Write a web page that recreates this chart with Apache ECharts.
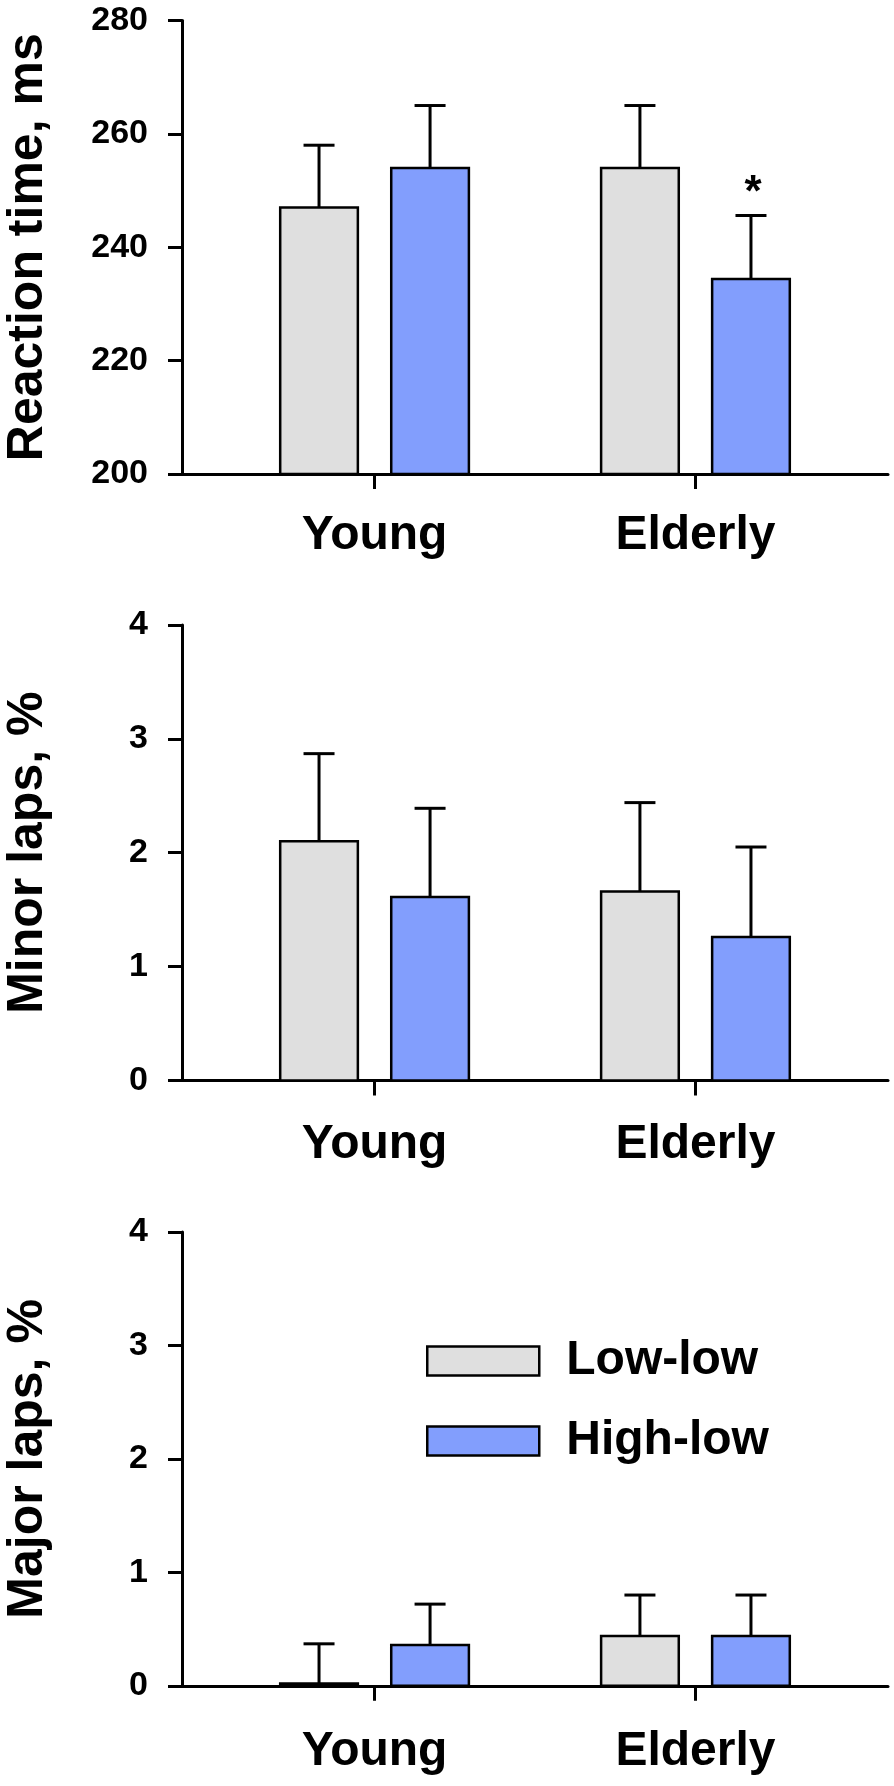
<!DOCTYPE html>
<html>
<head>
<meta charset="utf-8">
<title>Reaction time and lapses</title>
<script src="https://cdn.jsdelivr.net/npm/echarts@6/dist/echarts.min.js"></script>
<style>
  html, body { margin: 0; padding: 0; background: #fff; }
  #main { width: 894px; height: 1786px; }
</style>
</head>
<body>
<div id="main"></div>
<script>
// groups on the x axis (1 = Young, 2 = Elderly)
var groups = ['Young', 'Elderly'];
var groupPos = [1, 2];
var conditions = ['Low-low', 'High-low'];

// reaction time, ms (mean, SD)
var rtLowMean = [247, 254];
var rtLowSd = [11, 11];
var rtHighMean = [254, 234.4];
var rtHighSd = [11, 11.2];
var rtHighSig = [false, true];

// minor lapses, %
var minorLowMean = [2.1, 1.66];
var minorLowSd = [0.77, 0.78];
var minorHighMean = [1.61, 1.26];
var minorHighSd = [0.78, 0.79];

// major lapses, %
var majorLowMean = [0.02, 0.44];
var majorLowSd = [0.35, 0.36];
var majorHighMean = [0.36, 0.44];
var majorHighSd = [0.36, 0.36];

var FONT = '"Liberation Sans", Arial, sans-serif';
var LOW_COLOR = '#DFDFDF';
var HIGH_COLOR = '#829EFD';
var BAR_OFFSET = 0.173;   // bar centre offset from group tick, axis units
var BAR_HALF = 0.121;     // half bar width, axis units
var CAP_HALF = 15.5;      // half error cap width, px

function rows(means, sds, sig) {
  return groupPos.map(function (g, i) {
    return [g, means[i], sds[i], sig && sig[i] ? 1 : 0];
  });
}

function barRenderer(offset, fill, yMin) {
  return function (params, api) {
    var x = api.value(0) + offset;
    var mean = api.value(1);
    var sd = api.value(2);
    var tl = api.coord([x - BAR_HALF, mean]);
    var br = api.coord([x + BAR_HALF, yMin]);
    var mid = api.coord([x, mean]);
    var cap = api.coord([x, mean + sd]);
    var children = [
      { type: 'line', shape: { x1: mid[0], y1: mid[1], x2: cap[0], y2: cap[1] },
        style: { stroke: '#000', lineWidth: 3 } },
      { type: 'line', shape: { x1: cap[0] - CAP_HALF, y1: cap[1], x2: cap[0] + CAP_HALF, y2: cap[1] },
        style: { stroke: '#000', lineWidth: 3 } },
      { type: 'rect', shape: { x: tl[0], y: tl[1], width: br[0] - tl[0], height: br[1] - tl[1] },
        style: { fill: fill, stroke: '#000', lineWidth: 2.5 } }
    ];
    if (api.value(3)) {
      children.push({ type: 'text', x: cap[0] + 2, y: cap[1] - 22,
        style: { text: '*', font: 'bold 44px ' + FONT, fill: '#000', align: 'center', verticalAlign: 'middle' } });
    }
    return { type: 'group', children: children };
  };
}

var grids = [
  { left: 182, width: 706, top: 20.5, height: 453.5 },
  { left: 182, width: 706, top: 625, height: 455.4 },
  { left: 182, width: 706, top: 1232, height: 453.8 }
];
var yNames = ['Reaction time, ms', 'Minor laps, %', 'Major laps, %'];
var yMins = [200, 0, 0];
var yMaxs = [280, 4, 4];
var yIntervals = [20, 1, 1];
var xLabelMargins = [38, 40, 42];

var xAxes = grids.map(function (g, i) {
  return {
    gridIndex: i, type: 'value', min: 0.4, max: 2.6,
    splitLine: { show: false },
    axisLine: { onZero: false, lineStyle: { color: '#000', width: 3 } },
    axisTick: { customValues: groupPos, length: 15, lineStyle: { color: '#000', width: 3 } },
    axisLabel: {
      customValues: groupPos, margin: xLabelMargins[i],
      formatter: function (v) { return groups[groupPos.indexOf(v)]; },
      fontFamily: FONT, fontWeight: 'bold', fontSize: 48, color: '#000'
    }
  };
});

var yAxes = grids.map(function (g, i) {
  return {
    gridIndex: i, type: 'value', min: yMins[i], max: yMaxs[i], interval: yIntervals[i],
    name: yNames[i], nameLocation: 'middle', nameGap: 129,
    nameTextStyle: { fontFamily: FONT, fontWeight: 'bold', fontSize: 50, color: '#000' },
    splitLine: { show: false },
    axisLine: { show: true, onZero: false, lineStyle: { color: '#000', width: 3 } },
    axisTick: { show: true, length: 14, lineStyle: { color: '#000', width: 3 } },
    axisLabel: { margin: 34, fontFamily: FONT, fontWeight: 'bold', fontSize: 34, color: '#000' }
  };
});

var panels = [
  [rows(rtLowMean, rtLowSd), rows(rtHighMean, rtHighSd, rtHighSig)],
  [rows(minorLowMean, minorLowSd), rows(minorHighMean, minorHighSd)],
  [rows(majorLowMean, majorLowSd), rows(majorHighMean, majorHighSd)]
];

var series = [];
panels.forEach(function (p, i) {
  series.push({
    name: conditions[0], type: 'custom', xAxisIndex: i, yAxisIndex: i,
    renderItem: barRenderer(-BAR_OFFSET, LOW_COLOR, yMins[i]), data: p[0],
    itemStyle: { color: LOW_COLOR }, silent: true
  });
  series.push({
    name: conditions[1], type: 'custom', xAxisIndex: i, yAxisIndex: i,
    renderItem: barRenderer(BAR_OFFSET, HIGH_COLOR, yMins[i]), data: p[1],
    itemStyle: { color: HIGH_COLOR }, silent: true
  });
});

var chart = echarts.init(document.getElementById('main'));
chart.setOption({
  animation: false,
  backgroundColor: '#fff',
  grid: grids.map(function (g) { return Object.assign({ outerBoundsMode: 'none' }, g); }),
  xAxis: xAxes,
  yAxis: yAxes,
  legend: {
    orient: 'vertical', left: 421, top: 1332,
    itemWidth: 112, itemHeight: 29, itemGap: 32, selectedMode: false,
    data: [
      { name: conditions[0], icon: 'rect', itemStyle: { color: LOW_COLOR, borderColor: '#000', borderWidth: 2.5 } },
      { name: conditions[1], icon: 'rect', itemStyle: { color: HIGH_COLOR, borderColor: '#000', borderWidth: 2.5 } }
    ],
    textStyle: { fontFamily: FONT, fontWeight: 'bold', fontSize: 48, color: '#000', lineHeight: 29, padding: [0, 0, 0, 22] }
  },
  series: series
});
</script>
</body>
</html>
